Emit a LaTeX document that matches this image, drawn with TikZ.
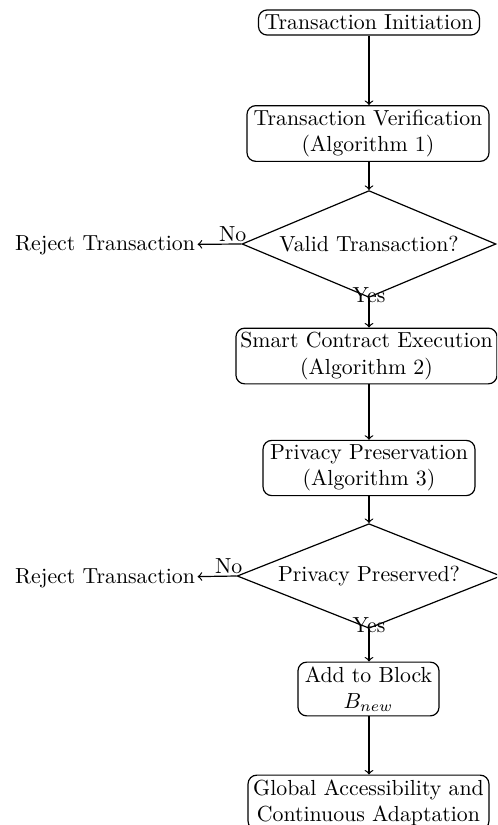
\documentclass[tikz,border=0pt]{standalone}
\usetikzlibrary{shapes.geometric}
\begin{document}
\begin{tikzpicture}[x=0.4587pt,y=-0.4587pt,line width=0.55pt,
  procbox/.style={draw,rounded corners=4pt,align=center,inner sep=2pt,minimum height=23pt},
  decbox/.style={draw,diamond,aspect=2.4,inner sep=0pt},
  flow/.style={->},
  plain/.style={inner sep=1pt}]
\useasboundingbox (0,0) rectangle (497,825);
\clip (0,0) rectangle (497,825);
\coordinate (axis) at (369,0);
\node[procbox,minimum height=11.5pt,minimum width=101.4pt] (init) at (369,22.5) {Transaction Initiation};
\node[procbox,minimum width=111pt] (verif) at (368,133.5) {Transaction Verification\\(Algorithm 1)};
\node[decbox,minimum width=116.5pt,minimum height=49pt] (valid) at (369,244) {Valid Transaction?};
\node[plain] (rej1) at (105,245) {Reject Transaction};
\node[procbox,minimum width=119.7pt] (smart) at (366.5,356) {Smart Contract Execution\\(Algorithm 2)};
\node[procbox,minimum width=97.2pt] (priv) at (369,468) {Privacy Preservation\\(Algorithm 3)};
\node[decbox,minimum width=121pt,minimum height=48pt] (pres) at (369,576) {Privacy Preserved?};
\node[plain] (rej2) at (105,578) {Reject Transaction};
\node[procbox,minimum width=64.7pt,minimum height=22pt] (add) at (368.5,689) {Add to Block\\$B_{new}$};
\node[procbox,minimum width=110.5pt] (glob) at (368.5,802.5) {Global Accessibility and\\Continuous Adaptation};
\draw[flow] (init.south -| axis) -- (verif.north -| axis);
\draw[flow] (verif.south -| axis) -- (valid.north);
\draw[flow] (valid.south) -- node[pos=0.0,plain,yshift=1.5pt] {Yes} (smart.north -| axis);
\draw[flow] (valid.west) -- node[above,pos=0.2,plain] {No} (rej1);
\draw[flow] (smart.south -| axis) -- (priv.north -| axis);
\draw[flow] (priv.south -| axis) -- (pres.north);
\draw[flow] (pres.south) -- node[pos=0.0,plain,yshift=1.5pt] {Yes} (add.north -| axis);
\draw[flow] (pres.west) -- node[above,pos=0.2,plain] {No} (rej2);
\draw[flow] (add.south -| axis) -- (glob.north -| axis);
\end{tikzpicture}
\end{document}
